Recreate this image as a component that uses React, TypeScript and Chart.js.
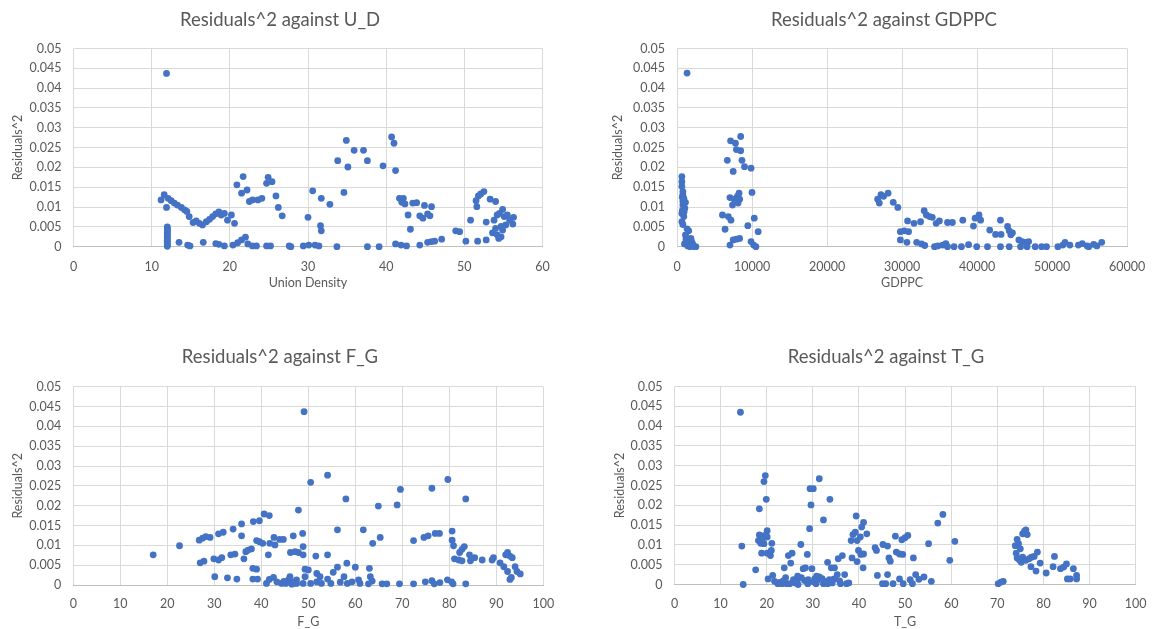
import React, { useEffect, useRef } from 'react';
import { Chart, registerables } from 'chart.js';

Chart.register(...registerables);

const FONT = 'Lato, "Open Sans", sans-serif';
const TEXT_COLOR = '#595959';
const POINT_COLOR = '#4472C4';
const TITLE_SIZE = 18.5;
const AXIS_SIZE = 12.5;

const yTickValues = [0, 0.005, 0.01, 0.015, 0.02, 0.025, 0.03, 0.035, 0.04, 0.045, 0.05];
const xTicksUD = [0, 10, 20, 30, 40, 50, 60];
const xTicksGDPPC = [0, 10000, 20000, 30000, 40000, 50000, 60000];
const xTicksPct = [0, 10, 20, 30, 40, 50, 60, 70, 80, 90, 100];

const titles = [
  'Residuals^2 against U_D',
  'Residuals^2 against GDPPC',
  'Residuals^2 against F_G',
  'Residuals^2 against T_G',
];
const xLabels = ['Union Density', 'GDPPC', 'F_G', 'T_G'];
const yLabel = 'Residuals^2';

const udData: [number, number][] = [
  [11.9, 0.0437], [11.2, 0.0118], [11.6, 0.0131], [11.9, 0.0099],
  [12, 0.005], [12, 0.0047], [12, 0.0043], [12, 0.004], [12, 0.0036], [12, 0.0032], [12, 0.0028],
  [12, 0.0024], [12, 0.002], [12, 0.0016], [12, 0.0012], [12, 0.0008], [12, 0.0004], [12, 0.0001],
  [12.1, 0.0122], [12.5, 0.0116], [12.9, 0.011], [13.3, 0.0105], [13.8, 0.0099], [14.2, 0.0093],
  [14.5, 0.0089], [14.8, 0.0076], [15.3, 0.0061], [15.7, 0.0065], [16.1, 0.0059], [16.5, 0.0055],
  [17.0, 0.0063], [17.4, 0.0069], [17.8, 0.0076], [18.2, 0.0083], [18.6, 0.0088], [18.9, 0.008],
  [19.3, 0.0084], [19.7, 0.0067], [20.2, 0.008], [20.6, 0.0059],
  [20.9, 0.0156], [21.7, 0.0177], [21.5, 0.0135], [22.2, 0.0143], [22.5, 0.0114], [22.9, 0.0118],
  [23.6, 0.0118], [24.1, 0.0122], [24.7, 0.016], [24.9, 0.0175], [25.4, 0.0164], [25.9, 0.0128],
  [26.2, 0.0099], [26.7, 0.0078],
  [13.5, 0.0011], [14.6, 0.0004], [14.9, 0.0002], [16.6, 0.0011], [18.2, 0.0008], [18.6, 0.0006],
  [19.3, 0.0002], [20.4, 0.0004], [21.0, 0.001], [21.5, 0.0017], [22.0, 0.0024], [22.3, 0.0007],
  [22.9, 0.0002], [23.4, 0.0002], [24.7, 0.0002], [25.2, 0.0002], [27.6, 0.0002],
  [27.8, 0], [29.4, 0.0002], [30.1, 0.0004], [30.9, 0.0004], [31.4, 0.0002], [33.7, 0], [37.6, 0],
  [39.1, 0], [41.2, 0.0007], [41.9, 0.0004], [42.6, 0.0002], [44.3, 0.0004], [45.3, 0.0011],
  [45.8, 0.0013], [46.2, 0.0014], [47.1, 0.0019], [48.9, 0.004], [49.4, 0.0038], [50.2, 0.0014],
  [51.7, 0.0014], [52.8, 0.0017],
  [30.0, 0.0074], [31.6, 0.0053], [31.7, 0.004], [30.6, 0.0141], [31.7, 0.0122], [32.8, 0.0107],
  [33.8, 0.0217], [34.6, 0.0137], [34.9, 0.0268], [35.1, 0.0201], [35.9, 0.0243], [37.1, 0.0243],
  [37.6, 0.0217], [39.6, 0.0204], [40.7, 0.0277], [41.0, 0.0261], [41.2, 0.0192],
  [41.7, 0.0122], [42.2, 0.0122], [42.0, 0.0112], [42.4, 0.0108], [42.8, 0.008], [43.1, 0.0044],
  [43.4, 0.011], [43.9, 0.0111], [44.9, 0.0104], [45.8, 0.0101], [44.3, 0.0078], [44.7, 0.0072],
  [45.3, 0.0083], [45.6, 0.0078],
  [50.8, 0.0067], [51.5, 0.0116], [51.6, 0.0101], [51.8, 0.0128], [52.1, 0.0133], [52.5, 0.0139],
  [52.8, 0.0062], [53.3, 0.012], [54.0, 0.0114], [53.8, 0.0067], [54.2, 0.008], [54.5, 0.0084],
  [54.9, 0.0094], [55.1, 0.0076], [55.5, 0.008], [55.8, 0.0067], [56.3, 0.0074], [56.2, 0.0057],
  [55.3, 0.0055], [54.7, 0.0051], [54.0, 0.0046], [53.6, 0.0035], [54.2, 0.003], [54.7, 0.0025],
  [54.4, 0.0021], [54.9, 0.0042],
];

const gdppcData: [number, number][] = [
  [1340, 0.0438], [650, 0.0177], [650, 0.0164], [650, 0.0152], [780, 0.0139], [780, 0.0131],
  [910, 0.0122], [780, 0.0114], [1130, 0.0112], [780, 0.0105], [1040, 0.0097], [650, 0.0084],
  [910, 0.0076], [650, 0.0063], [780, 0.0056], [1340, 0.0045], [1560, 0.004], [1130, 0.003],
  [1210, 0.0019], [1560, 0.0014], [1860, 0.0021], [2080, 0.0008], [1000, 0.0007], [1430, 0.0002],
  [2290, 0], [1730, 0], [1210, 0.0013], [1950, 0.0013], [2510, 0], [700, 0.0125], [850, 0.0118],
  [700, 0.0091], [950, 0.0088], [1200, 0.0025], [1700, 0.0005], [2000, 0.0003],
  [6060, 0.008], [6410, 0.0044], [6710, 0.0218], [6840, 0.0076], [7060, 0.0124], [7140, 0.0267],
  [7190, 0.0067], [7400, 0.0105], [7490, 0.019], [7620, 0.012], [7790, 0.0261], [7920, 0.0245],
  [8140, 0.011], [8050, 0.0127], [8350, 0.012], [8490, 0.0278], [8490, 0.0242], [8270, 0.0135],
  [8660, 0.0218], [9000, 0.0202], [9870, 0.0198], [10000, 0.0137], [10300, 0.0072], [9440, 0.0053],
  [10820, 0.0038], [7060, 0.0004], [7490, 0.0017], [7920, 0.0019], [8350, 0.0021], [9870, 0.0013],
  [10220, 0.0004], [10520, 0],
  [26750, 0.012], [26970, 0.011], [27190, 0.0131], [27530, 0.0127], [28140, 0.0135], [28830, 0.0112],
  [29440, 0.0099], [29780, 0.0038], [30300, 0.004], [30870, 0.0038], [29780, 0.0017], [30650, 0.0011],
  [30740, 0.0065], [31600, 0.0059], [32470, 0.0063], [31950, 0.0011], [32600, 0.0007], [33030, 0.0003],
  [32950, 0.0091], [33250, 0.008], [33680, 0.0076], [34030, 0.0074], [34550, 0.0059], [34980, 0.0065],
  [36060, 0.0061], [36710, 0.0061], [38100, 0.0067], [34330, 0], [34760, 0.0002], [35410, 0.0004],
  [35840, 0.0008], [36060, 0], [36930, 0], [37920, 0], [38870, 0.0005], [39520, 0.0052],
  [39740, 0.0072], [40260, 0.008], [40480, 0.0067], [39960, 0], [41390, 0], [41690, 0.0042],
  [42470, 0.0031], [43120, 0.0067], [43200, 0.0031], [43120, 0], [44070, 0.0051], [44290, 0.004],
  [44500, 0.003], [44720, 0.0035], [44290, 0], [45580, 0.0017], [46020, 0.0013], [46450, 0.0011],
  [46880, 0.0013], [45800, 0], [46670, 0], [47750, 0], [48610, 0], [49260, 0], [50780, 0],
  [51430, 0.0004], [51730, 0.0011], [52380, 0.0004], [53510, 0.0004], [54030, 0.0008], [54680, 0.0002],
  [54890, 0], [55540, 0.0006], [56620, 0.0011], [55970, 0.0002],
];

const fgData: [number, number][] = [
  [17, 0.0076], [22.6, 0.0099], [26.8, 0.0113], [27.5, 0.0118], [28.2, 0.0122], [29.1, 0.012],
  [30.9, 0.0129], [31.9, 0.0133], [34, 0.0141], [35.8, 0.0154], [35.8, 0.0124], [38.3, 0.016],
  [39.6, 0.0162], [40.6, 0.0179], [41.7, 0.0175],
  [27, 0.0056], [27.8, 0.006], [29.9, 0.0066], [30.9, 0.0063], [31.6, 0.0069], [33.5, 0.0076],
  [34.4, 0.0078], [36.3, 0.0066], [36.7, 0.0084], [37.2, 0.0088], [37.9, 0.0091], [39, 0.0112],
  [39.6, 0.0109], [40.3, 0.0105], [41.5, 0.0076], [41.8, 0.0105], [42.7, 0.012], [42.9, 0.0101],
  [43.9, 0.0115], [44.7, 0.0115], [46.8, 0.0124], [46.2, 0.0082], [47.2, 0.0084], [47.9, 0.0189],
  [30.1, 0.0021], [32.8, 0.0018], [34.8, 0.0015], [38.2, 0.0042], [39, 0.004], [38.2, 0.0015],
  [39.2, 0.0015], [41.1, 0.0004], [41.7, 0.0014], [42.6, 0.0019], [43.3, 0.0008], [44.3, 0.0004],
  [45.2, 0.0004], [46.1, 0.0021], [46.7, 0.0008], [47.5, 0.0013], [45.8, 0.0013], [46.5, 0.0002],
  [47.2, 0.0005], [44.8, 0.0009],
  [49.1, 0.0437], [50.5, 0.0259], [54.1, 0.0277], [58, 0.0217], [64.9, 0.0199], [68.9, 0.0202],
  [69.6, 0.0241], [76.3, 0.0244], [79.7, 0.0266], [83.5, 0.0217],
  [48.8, 0.013], [48.9, 0.0097], [47.9, 0.0082], [48.9, 0.0076], [51.6, 0.0073], [54.1, 0.0076],
  [56.2, 0.0139], [61.7, 0.0139], [63.7, 0.0105], [65.3, 0.012], [72.4, 0.0112], [74.6, 0.012],
  [75.5, 0.0124], [77, 0.013], [77.9, 0.013], [80.6, 0.0136], [80.6, 0.0113], [80.9, 0.0099],
  [81.1, 0.0066], [82, 0.0063], [82.7, 0.0061], [82.2, 0.0082], [82.7, 0.009], [83.2, 0.0097],
  [84.5, 0.0061], [84.3, 0.0076], [85.4, 0.0069], [87, 0.0063], [89.1, 0.0063], [89.4, 0.0069],
  [90.8, 0.0056], [91.6, 0.0046], [92, 0.0076], [92.4, 0.0082], [92.9, 0.0073], [93.4, 0.0069],
  [92.4, 0.0034], [92.9, 0.0014], [94, 0.0046], [94.4, 0.0034], [95.1, 0.0028], [93.2, 0.0019],
  [47.5, 0.0004], [49.3, 0.004], [50, 0.0038], [49.3, 0.0021], [48.9, 0.0004], [50.5, 0.0004],
  [51.8, 0.0029], [52.5, 0.0021], [51.8, 0.0008], [52.8, 0.0004], [54.1, 0.0015], [54.8, 0.0004],
  [55.3, 0.0032], [56.2, 0.0045], [56.8, 0.0007], [57.6, 0.0021], [58.2, 0.0055], [58.3, 0.0004],
  [59.3, 0.0008], [60, 0.0045], [60.7, 0.0013], [61, 0.0004], [63, 0.0042], [63.2, 0.0021],
  [63.6, 0.001], [62.8, 0.0003], [65.7, 0.0003], [66.7, 0.0003], [69.4, 0.0003], [72.4, 0.0003],
  [74.9, 0.0008], [76.3, 0.0011], [76.8, 0.0003], [78, 0.0006], [79.6, 0.0013], [80.5, 0.0008],
  [80.8, 0.0003], [83.5, 0.0003],
];

const tgData: [number, number][] = [
  [14.3, 0.0435], [14.6, 0.0097], [14.9, 0], [17.6, 0.0037], [18.4, 0.0191], [18.4, 0.0125],
  [18.2, 0.0111], [18.7, 0.0104], [18.9, 0.0079], [19.4, 0.026], [19.7, 0.0275], [19.9, 0.0215],
  [20.1, 0.012], [20.1, 0.0136], [19.4, 0.0103], [19.0, 0.0111], [19.6, 0.0124], [20.1, 0.0079],
  [20.8, 0.0073], [21, 0.0086], [21.1, 0.0104], [20.3, 0.0014], [21.3, 0.0023], [21.7, 0.0008],
  [22.4, 0.0002], [23.3, 0.0002], [23.8, 0.0042], [24.3, 0.0002], [24.7, 0.0073], [25.2, 0.0054],
  [25.5, 0.0079], [24.1, 0.0017], [25, 0.0002], [26.5, 0.001], [26.8, 0], [27.4, 0.0101],
  [27.9, 0.004], [28.4, 0.0042], [28.8, 0.0076], [29.3, 0.0141], [29.4, 0.0242], [30.1, 0.0242],
  [29.6, 0.0201], [29.8, 0.004], [28.2, 0.001], [28.9, 0.0002], [30.4, 0.0014], [30.7, 0.0002],
  [31.4, 0.0267], [31.4, 0.0019], [32.3, 0.0163], [32.3, 0.0002], [33.2, 0.0056], [33.7, 0.0215],
  [34, 0.0042], [34.6, 0.0014], [34.7, 0.0042], [35.3, 0.0025], [35.5, 0.0065], [36.4, 0.0073],
  [36.9, 0.0025], [37.3, 0.0002], [36, 0.0002], [33.2, 0.0002],
  [38.3, 0.0111], [38.5, 0.0067], [38.7, 0.0126], [39.2, 0.0132], [39.6, 0.0058], [39.6, 0.0111],
  [39.4, 0.0173], [39.9, 0.0086], [40.4, 0.0076], [40.6, 0.0145], [41, 0.0157], [40.9, 0.0042],
  [41, 0.0077], [41.7, 0.0128], [40.3, 0.012],
  [22.8, 0.0005], [23.6, 0.0009], [25.8, 0.0012], [26.2, 0.0004], [27.5, 0.0017], [29, 0.0012],
  [30.2, 0.0006], [31, 0.0011], [32, 0.0015], [32.8, 0.0008], [33.6, 0.0012], [34.2, 0.0004],
  [35.8, 0.0009], [37.8, 0.0004], [30.8, 0.0021], [26.7, 0.0021],
  [43.5, 0.0093], [43.8, 0.0086], [44, 0.0023], [45.2, 0.0101], [45.1, 0.0002], [45.8, 0.0002],
  [46.2, 0.0097], [46.5, 0.0067], [46.8, 0.0059], [46.2, 0.0025], [47.4, 0.0002], [47.9, 0.0122],
  [48.1, 0.0082], [48.8, 0.0077], [49.3, 0.0113], [49.5, 0.0076], [50, 0.0118], [50.6, 0.0124],
  [48.8, 0.0014], [49.6, 0.0002], [51.1, 0.0012], [51.6, 0.0002], [51.8, 0.0067], [52.3, 0.0025],
  [53, 0.0013], [54.1, 0.0019], [55.1, 0.0103], [55.7, 0.0008], [57.1, 0.0155], [58.2, 0.0177],
  [59.7, 0.0061], [60.8, 0.0109], [70.2, 0.0002], [70.8, 0.0006], [71.3, 0.0008],
  [73.9, 0.0098], [74.3, 0.0114], [74.6, 0.0103], [75, 0.009], [75.5, 0.0128], [75.9, 0.0135],
  [76.2, 0.0138], [76.5, 0.0126], [74.1, 0.0079], [74.3, 0.0067], [74.8, 0.0062], [75.2, 0.0056],
  [75.5, 0.0069], [76.2, 0.0061], [76.9, 0.0065], [77.4, 0.0069], [78, 0.0071], [78.7, 0.0082],
  [77.3, 0.0045], [78.4, 0.0034], [79.3, 0.0054], [80.6, 0.0029], [82.1, 0.0045], [82.4, 0.0071],
  [83.7, 0.004], [84.4, 0.0044], [85, 0.0052], [85.2, 0.0014], [85.8, 0.0014], [86.5, 0.004],
  [87.2, 0.0023], [87.2, 0.0014],
];

type Spec = {
  title: string; xLabel: string; points: [number, number][]; xTicks: number[];
  L: number; T: number; W: number; H: number;
  plotL: number; plotR: number; plotT: number; plotB: number;
  titleCX: number; titleCY: number; yTitleX: number; xTitleY: number; xTickY: number;
};

const specs: Spec[] = [
  { title: titles[0], xLabel: xLabels[0], points: udData, xTicks: xTicksUD,
    L: 0, T: 0, W: 579, H: 310, plotL: 73.5, plotR: 542.5, plotT: 48.5, plotB: 246.7,
    titleCX: 280, titleCY: 20, yTitleX: 18, xTitleY: 283, xTickY: 267 },
  { title: titles[1], xLabel: xLabels[1], points: gdppcData, xTicks: xTicksGDPPC,
    L: 579, T: 0, W: 579, H: 310, plotL: 677, plotR: 1140, plotT: 48.5, plotB: 246.7,
    titleCX: 884, titleCY: 20, yTitleX: 618, xTitleY: 283, xTickY: 267 },
  { title: titles[2], xLabel: xLabels[2], points: fgData, xTicks: xTicksPct,
    L: 0, T: 310, W: 579, H: 319, plotL: 73.3, plotR: 543.3, plotT: 386.7, plotB: 585,
    titleCX: 280, titleCY: 357, yTitleX: 18, xTitleY: 622, xTickY: 603.5 },
  { title: titles[3], xLabel: xLabels[3], points: tgData, xTicks: xTicksPct,
    L: 579, T: 310, W: 579, H: 319, plotL: 674.5, plotR: 1143.5, plotT: 386.5, plotB: 584.5,
    titleCX: 886, titleCY: 357, yTitleX: 620, xTitleY: 622, xTickY: 603.5 },
];

const fmtY = (v: number) => String(parseFloat(Number(v).toFixed(4)));

function Panel({ s }: { s: Spec }) {
  const ref = useRef<HTMLCanvasElement>(null);
  useEffect(() => {
    if (!ref.current) return;
    const LH = TITLE_SIZE * 1.2;
    const axisHalf = (AXIS_SIZE * 1.2) / 2;
    const innerLeft = 2 * s.titleCX - s.plotR;
    const padLeft = innerLeft - s.L;
    const padRight = s.L + s.W - s.plotR;
    const yw = s.plotL - innerLeft;
    const yTitlePad = s.yTitleX - axisHalf - innerLeft;
    const tPadTop = s.titleCY - s.T - LH / 2;
    const tPadBottom = s.plotT - s.T - tPadTop - LH;
    const xh = s.T + s.H - s.plotB;
    const xTitlePad = s.T + s.H - axisHalf - s.xTitleY;
    const xTickPad = s.xTickY - axisHalf - s.plotB;
    const chart = new Chart(ref.current, {
      type: 'scatter',
      data: {
        datasets: [{
          data: s.points.map(([x, y]) => ({ x, y })),
          backgroundColor: POINT_COLOR,
          borderColor: POINT_COLOR,
          borderWidth: 0,
          pointRadius: 3.4,
          pointHoverRadius: 3.4,
          clip: false as any,
        }],
      },
      options: {
        animation: false,
        responsive: false,
        maintainAspectRatio: false,
        events: [],
        layout: { padding: { left: padLeft, right: padRight, top: 0, bottom: 0 } },
        plugins: {
          legend: { display: false },
          tooltip: { enabled: false },
          title: {
            display: true, text: s.title, color: TEXT_COLOR,
            font: { family: FONT, size: TITLE_SIZE, weight: 'normal' as any },
            padding: { top: tPadTop, bottom: tPadBottom },
          },
        },
        scales: {
          x: {
            type: 'linear',
            min: s.xTicks[0], max: s.xTicks[s.xTicks.length - 1],
            afterBuildTicks: (sc: any) => { sc.ticks = s.xTicks.map((v) => ({ value: v })); },
            afterFit: (sc: any) => { sc.height = xh; },
            ticks: {
              color: TEXT_COLOR, font: { family: FONT, size: AXIS_SIZE }, padding: xTickPad,
              maxRotation: 0, minRotation: 0, autoSkip: false,
              callback: (v: any) => String(v),
            },
            grid: { color: '#d9d9d9', lineWidth: 1, drawTicks: false },
            border: { display: true, color: '#bfbfbf', width: 1 },
            title: {
              display: true, text: s.xLabel, color: TEXT_COLOR,
              font: { family: FONT, size: AXIS_SIZE }, padding: { top: 0, bottom: xTitlePad },
            },
          },
          y: {
            type: 'linear',
            min: 0, max: 0.05,
            afterBuildTicks: (sc: any) => { sc.ticks = yTickValues.map((v) => ({ value: v })); },
            afterFit: (sc: any) => { sc.width = yw; },
            ticks: {
              color: TEXT_COLOR, font: { family: FONT, size: AXIS_SIZE }, padding: 12,
              autoSkip: false, callback: (v: any) => fmtY(v),
            },
            grid: { color: '#d9d9d9', lineWidth: 1, drawTicks: false },
            border: { display: false },
            title: {
              display: true, text: yLabel, color: TEXT_COLOR,
              font: { family: FONT, size: AXIS_SIZE }, padding: { top: yTitlePad, bottom: 0 },
            },
          },
        },
      },
    } as any);
    return () => chart.destroy();
  }, [s]);
  return (
    <canvas
      ref={ref}
      width={s.W}
      height={s.H}
      style={{ position: 'absolute', left: s.L, top: s.T, width: s.W, height: s.H }}
    />
  );
}

export default function App() {
  return (
    <div style={{ position: 'absolute', left: 0, top: 0, width: 1158, height: 629, background: '#ffffff', overflow: 'hidden' }}>
      {specs.map((s, i) => <Panel key={i} s={s} />)}
    </div>
  );
}
